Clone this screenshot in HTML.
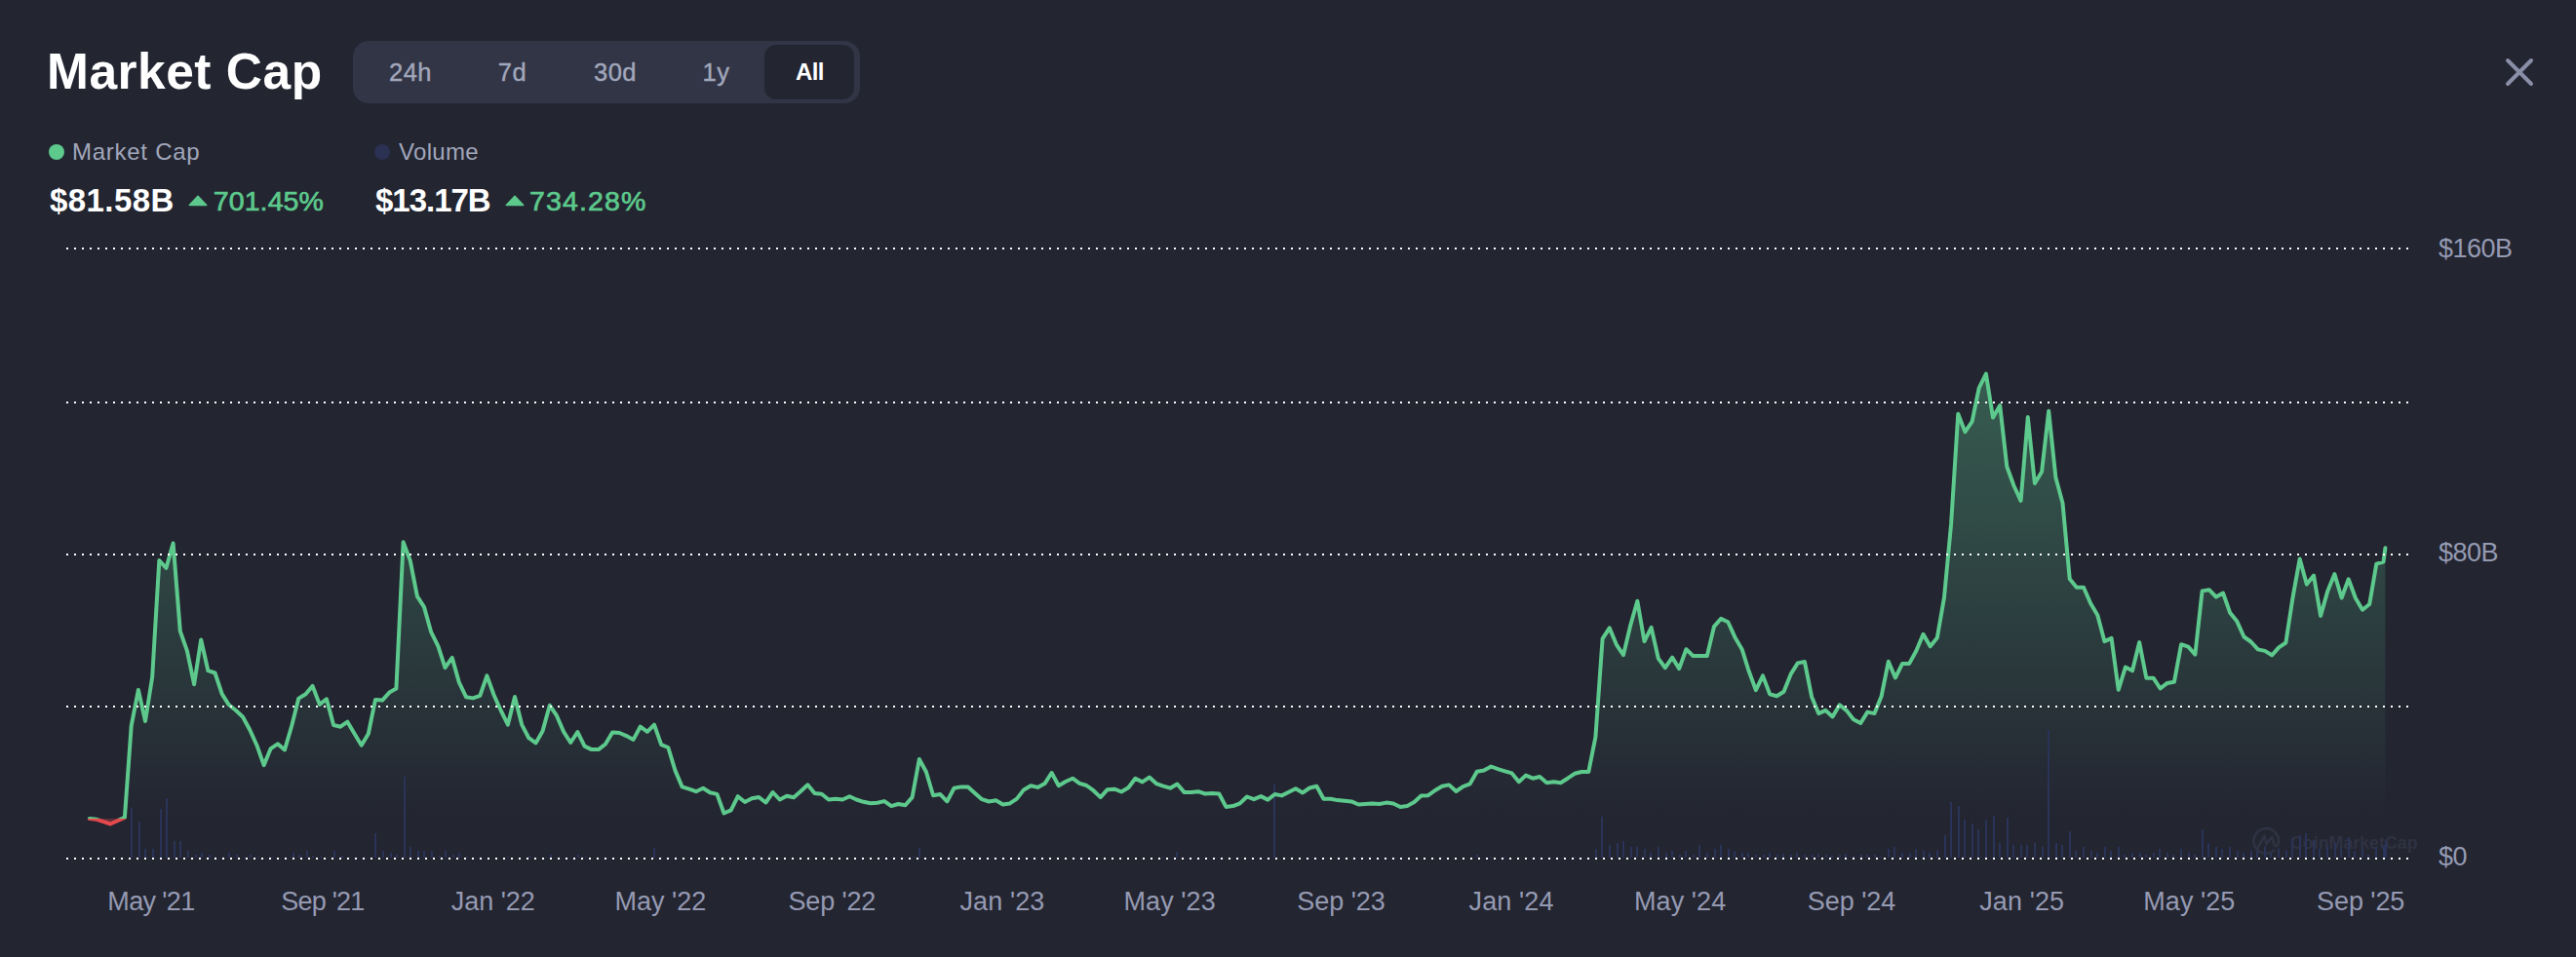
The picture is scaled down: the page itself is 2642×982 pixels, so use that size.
<!DOCTYPE html>
<html lang="en"><head><meta charset="utf-8"><title>Market Cap</title>
<style>
html,body{margin:0;padding:0;background:#232531;}
body{width:2642px;height:982px;background:#232531;overflow:hidden;position:relative;font-family:"Liberation Sans",sans-serif;color:#fff;}
.abs{position:absolute;white-space:nowrap;line-height:1;}
.title{left:48px;top:47.5px;font-size:51.5px;font-weight:700;letter-spacing:0.5px;}
.tabs{left:362px;top:42px;width:520px;height:64px;border-radius:16px;background:#323546;}
.tab{position:absolute;top:0;height:64px;line-height:64px;font-size:25.5px;letter-spacing:0.5px;color:#a1a7bb;text-align:center;transform:translateX(-50%);-webkit-text-stroke:0.4px #a1a7bb;}
.tab.on{top:4px;height:56px;line-height:56px;width:92px;background:#232531;border-radius:12px;color:#fff;font-weight:700;font-size:24px;letter-spacing:-0.6px;-webkit-text-stroke:0;transform:none;}
.dot{width:16px;height:16px;border-radius:50%;}
.lg{font-size:24px;color:#a1a7bb;}
.val{font-size:33px;font-weight:700;}
.pct{font-size:28.5px;color:#5dc98c;-webkit-text-stroke:0.7px #5dc98c;}
svg{position:absolute;left:0;top:0;}
</style></head><body>
<div class="abs title">Market Cap</div>
<div class="abs tabs">
<div class="tab" style="left:59px">24h</div>
<div class="tab" style="left:163.5px">7d</div>
<div class="tab" style="left:269px">30d</div>
<div class="tab" style="left:372.5px">1y</div>
<div class="tab on" style="left:422px;text-indent:1px">All</div>
</div>
<div class="abs dot" style="left:50px;top:148px;background:#5dc98c"></div>
<div class="abs lg" style="left:74px;top:143.7px;letter-spacing:0.73px">Market Cap</div>
<div class="abs dot" style="left:384px;top:148px;background:#2a3152"></div>
<div class="abs lg" style="left:409px;top:143.7px;letter-spacing:0.3px">Volume</div>
<div class="abs val" style="left:51px;top:188.8px;letter-spacing:0.42px">$81.58B</div>
<div class="abs pct" style="left:218.7px;top:191.9px;letter-spacing:0.12px">701.45%</div>
<div class="abs val" style="left:385px;top:188.8px;letter-spacing:-1.02px">$13.17B</div>
<div class="abs pct" style="left:543px;top:191.9px;letter-spacing:1.12px">734.28%</div>
<svg width="2642" height="982" viewBox="0 0 2642 982">
<defs>
<linearGradient id="g" gradientUnits="userSpaceOnUse" x1="0" y1="380" x2="0" y2="840">
<stop offset="0" stop-color="#5dc98c" stop-opacity="0.342"/>
<stop offset="1" stop-color="#5dc98c" stop-opacity="0"/>
</linearGradient>
<clipPath id="up"><rect x="0" y="0" width="2642" height="840.1"/></clipPath>
<clipPath id="dn"><rect x="0" y="840.1" width="2642" height="60"/></clipPath>
</defs>
<path d="M203 201.2 L211.7 210.6 H194.3 Z" fill="#5dc98c" stroke="#5dc98c" stroke-width="1.5" stroke-linejoin="round"/>
<path d="M528 201.2 L536.7 210.6 H519.3 Z" fill="#5dc98c" stroke="#5dc98c" stroke-width="1.5" stroke-linejoin="round"/>
<path d="M2572 62 L2596 86 M2596 62 L2572 86" stroke="#8a8fa8" stroke-width="4" stroke-linecap="round" fill="none"/>
<path d="M91.8 840.1 L99 840.8 L106.1 843.2 L113.3 845.5 L120.4 842.2 L127.9 838.9 L134.7 744.7 L141.9 707.9 L149 740 L156.2 694.5 L163.3 575.1 L170.5 582.8 L177.6 557.4 L184.8 647.7 L191.9 667.8 L199.1 702.2 L206.2 656.4 L213.4 688.2 L220.5 690.5 L227.7 712.2 L234.8 723.3 L242 729 L249.1 735.7 L256.3 749 L263.4 764.7 L270.6 785.2 L277.7 768.1 L284.9 763.4 L292 769.4 L299.2 744.7 L306.3 716.6 L313.5 712.2 L320.6 703.9 L327.8 722.9 L334.9 717.3 L342.1 744 L349.2 745.7 L356.4 740.7 L363.5 752.7 L370.7 764.7 L377.8 753 L385 717.9 L392.1 718.6 L399.3 710.6 L406.4 706.6 L413.6 556.3 L420.7 575.1 L427.9 611.9 L435 622.9 L442.2 648.7 L449.4 663.1 L456.5 685.2 L463.7 674.9 L470.8 700.1 L478 715.2 L485.1 716.4 L492.3 713.9 L499.4 693.4 L506.6 713.3 L513.7 729 L520.9 743.6 L528 715 L535.2 743.6 L542.3 757.2 L549.5 762.4 L556.6 749.9 L563.8 723.8 L570.9 734.2 L578.1 750.9 L585.2 762 L592.4 751.1 L599.5 765.6 L606.7 769.1 L613.8 769.1 L621 763.5 L628.1 751.6 L635.3 752 L642.4 755.1 L649.6 758.9 L656.7 745.7 L663.9 750.9 L671 743.6 L678.2 764.1 L685.3 767 L692.5 790.6 L699.6 807.4 L706.8 809.7 L713.9 812.2 L721.1 808.8 L728.2 813.2 L735.4 814.9 L742.5 834.5 L749.7 831.4 L756.8 817.2 L764 823 L771.1 819.3 L778.3 818 L785.4 823.5 L792.6 813 L799.7 820.5 L806.9 816.8 L814.1 818.2 L821.2 812 L828.4 805.3 L835.5 814.1 L842.7 814.7 L849.8 820.5 L857 819.7 L864.1 820.5 L871.3 817.2 L878.4 820.5 L885.6 822.8 L892.7 824.2 L899.9 823.7 L907 822.1 L914.2 827.1 L921.3 825 L928.5 826.3 L935.6 818.1 L942.8 779 L949.9 792 L957.1 816.2 L964.2 815 L971.4 822.3 L978.5 808.7 L985.7 807.4 L992.8 807.4 L1000 813.9 L1007.1 820.2 L1014.3 822.5 L1021.4 821.2 L1028.6 825.4 L1035.7 824.4 L1042.9 819.6 L1050 810.4 L1057.2 806.2 L1064.3 807.9 L1071.5 804.1 L1078.6 793 L1085.8 806.2 L1092.9 802 L1100.1 798.7 L1107.2 803.9 L1114.4 806 L1121.5 811.2 L1128.7 818.1 L1135.8 810.2 L1143 809.7 L1150.1 812.5 L1157.3 808.3 L1164.4 798.7 L1171.6 802.4 L1178.8 797.6 L1185.9 804.1 L1193.1 806.6 L1200.2 808.7 L1207.4 804.5 L1214.5 812.9 L1221.7 813.1 L1228.8 812.2 L1236 814.5 L1243.1 813.9 L1250.3 814.5 L1257.4 827.9 L1264.6 827.1 L1271.7 824.4 L1278.9 817.5 L1286 820.2 L1293.2 817.1 L1300.3 820.6 L1307.5 815 L1314.6 816.4 L1321.8 812.7 L1328.9 809.2 L1336.1 813.4 L1343.2 808.5 L1350.4 806.8 L1357.5 819.7 L1364.7 819.7 L1371.8 821.1 L1379 821.7 L1386.1 822.4 L1393.3 825.5 L1400.4 825 L1407.6 824.5 L1414.7 825 L1421.9 823.6 L1429 824.5 L1436.2 828 L1443.3 826.9 L1450.5 823.1 L1457.6 816.6 L1464.8 816.2 L1471.9 811 L1479.1 806.7 L1486.2 805.4 L1493.4 812 L1500.5 807.1 L1507.7 804.3 L1514.8 791.7 L1522 790.6 L1529.2 786.5 L1536.3 789.2 L1543.5 791.4 L1550.6 793.4 L1557.8 802.2 L1564.9 795.6 L1572.1 798.7 L1579.2 797 L1586.4 803.2 L1593.5 802.2 L1600.7 803.2 L1607.8 798.7 L1615 793.8 L1622.1 792 L1629.3 791.9 L1636.4 756.3 L1643.6 655.4 L1650.7 644.3 L1657.9 661.6 L1665 672.1 L1672.2 641.8 L1679.3 616.7 L1686.5 658.1 L1693.6 643.9 L1700.8 675.6 L1707.9 685.2 L1715.1 674.6 L1722.2 686.1 L1729.4 666.2 L1736.5 673.1 L1743.7 673.1 L1750.8 673.1 L1758 642.8 L1765.1 634.9 L1772.3 638.2 L1779.4 653.9 L1786.6 666.2 L1793.7 688.8 L1800.9 708.2 L1808 693.4 L1815.2 712.4 L1822.3 714.3 L1829.5 709.7 L1836.6 691.9 L1843.8 680.4 L1850.9 679 L1858.1 714.9 L1865.2 732.1 L1872.4 728.9 L1879.5 735.4 L1886.7 723.3 L1893.9 729.1 L1901 738.3 L1908.2 742.1 L1915.3 730.6 L1922.5 732.1 L1929.6 714.5 L1936.8 678.8 L1943.9 695.5 L1951.1 680.9 L1958.2 680.9 L1965.4 667.7 L1972.5 650.8 L1979.7 663.3 L1986.8 654.5 L1994 613.1 L2001.1 537.9 L2008.3 424.7 L2015.4 443.1 L2022.6 432.7 L2029.7 398.2 L2036.9 383.6 L2044 428.5 L2051.2 416 L2058.3 478.7 L2065.5 498.5 L2072.6 513.8 L2079.8 428.1 L2086.9 496 L2094.1 483.9 L2101.2 421.8 L2108.4 490.1 L2115.5 516.3 L2122.7 593.9 L2129.8 602.7 L2137 602.7 L2144.1 619 L2151.3 631.3 L2158.4 658.1 L2165.6 654.9 L2172.7 707.8 L2179.9 684.6 L2187 688.3 L2194.2 659.1 L2201.3 695.7 L2208.5 695.7 L2215.6 706.5 L2222.8 700.9 L2229.9 699.8 L2237.1 661.2 L2244.3 663.7 L2251.4 671.6 L2258.6 606.4 L2265.7 605.2 L2272.9 612.5 L2280 608.5 L2287.2 628.8 L2294.3 637.6 L2301.5 653.5 L2308.6 658.5 L2315.8 666.4 L2322.9 667.9 L2330.1 672.3 L2337.2 664.3 L2344.4 659.5 L2351.5 613.1 L2358.7 573.4 L2365.8 599.5 L2373 590.6 L2380.1 631.9 L2387.3 606.4 L2394.4 589.1 L2401.6 613.5 L2408.7 594.3 L2415.9 613.8 L2423 625.7 L2430.2 620 L2437.3 578.7 L2444.5 576.6 L2446.4 562.2 L2446.4 840.1 L91.8 840.1 Z" fill="url(#g)" clip-path="url(#up)"/>
<path d="M91.8 840.1 L99 840.8 L106.1 843.2 L113.3 845.5 L120.4 842.2 L127.9 838.9 L134.7 744.7 L141.9 707.9 L149 740 L156.2 694.5 L163.3 575.1 L170.5 582.8 L177.6 557.4 L184.8 647.7 L191.9 667.8 L199.1 702.2 L206.2 656.4 L213.4 688.2 L220.5 690.5 L227.7 712.2 L234.8 723.3 L242 729 L249.1 735.7 L256.3 749 L263.4 764.7 L270.6 785.2 L277.7 768.1 L284.9 763.4 L292 769.4 L299.2 744.7 L306.3 716.6 L313.5 712.2 L320.6 703.9 L327.8 722.9 L334.9 717.3 L342.1 744 L349.2 745.7 L356.4 740.7 L363.5 752.7 L370.7 764.7 L377.8 753 L385 717.9 L392.1 718.6 L399.3 710.6 L406.4 706.6 L413.6 556.3 L420.7 575.1 L427.9 611.9 L435 622.9 L442.2 648.7 L449.4 663.1 L456.5 685.2 L463.7 674.9 L470.8 700.1 L478 715.2 L485.1 716.4 L492.3 713.9 L499.4 693.4 L506.6 713.3 L513.7 729 L520.9 743.6 L528 715 L535.2 743.6 L542.3 757.2 L549.5 762.4 L556.6 749.9 L563.8 723.8 L570.9 734.2 L578.1 750.9 L585.2 762 L592.4 751.1 L599.5 765.6 L606.7 769.1 L613.8 769.1 L621 763.5 L628.1 751.6 L635.3 752 L642.4 755.1 L649.6 758.9 L656.7 745.7 L663.9 750.9 L671 743.6 L678.2 764.1 L685.3 767 L692.5 790.6 L699.6 807.4 L706.8 809.7 L713.9 812.2 L721.1 808.8 L728.2 813.2 L735.4 814.9 L742.5 834.5 L749.7 831.4 L756.8 817.2 L764 823 L771.1 819.3 L778.3 818 L785.4 823.5 L792.6 813 L799.7 820.5 L806.9 816.8 L814.1 818.2 L821.2 812 L828.4 805.3 L835.5 814.1 L842.7 814.7 L849.8 820.5 L857 819.7 L864.1 820.5 L871.3 817.2 L878.4 820.5 L885.6 822.8 L892.7 824.2 L899.9 823.7 L907 822.1 L914.2 827.1 L921.3 825 L928.5 826.3 L935.6 818.1 L942.8 779 L949.9 792 L957.1 816.2 L964.2 815 L971.4 822.3 L978.5 808.7 L985.7 807.4 L992.8 807.4 L1000 813.9 L1007.1 820.2 L1014.3 822.5 L1021.4 821.2 L1028.6 825.4 L1035.7 824.4 L1042.9 819.6 L1050 810.4 L1057.2 806.2 L1064.3 807.9 L1071.5 804.1 L1078.6 793 L1085.8 806.2 L1092.9 802 L1100.1 798.7 L1107.2 803.9 L1114.4 806 L1121.5 811.2 L1128.7 818.1 L1135.8 810.2 L1143 809.7 L1150.1 812.5 L1157.3 808.3 L1164.4 798.7 L1171.6 802.4 L1178.8 797.6 L1185.9 804.1 L1193.1 806.6 L1200.2 808.7 L1207.4 804.5 L1214.5 812.9 L1221.7 813.1 L1228.8 812.2 L1236 814.5 L1243.1 813.9 L1250.3 814.5 L1257.4 827.9 L1264.6 827.1 L1271.7 824.4 L1278.9 817.5 L1286 820.2 L1293.2 817.1 L1300.3 820.6 L1307.5 815 L1314.6 816.4 L1321.8 812.7 L1328.9 809.2 L1336.1 813.4 L1343.2 808.5 L1350.4 806.8 L1357.5 819.7 L1364.7 819.7 L1371.8 821.1 L1379 821.7 L1386.1 822.4 L1393.3 825.5 L1400.4 825 L1407.6 824.5 L1414.7 825 L1421.9 823.6 L1429 824.5 L1436.2 828 L1443.3 826.9 L1450.5 823.1 L1457.6 816.6 L1464.8 816.2 L1471.9 811 L1479.1 806.7 L1486.2 805.4 L1493.4 812 L1500.5 807.1 L1507.7 804.3 L1514.8 791.7 L1522 790.6 L1529.2 786.5 L1536.3 789.2 L1543.5 791.4 L1550.6 793.4 L1557.8 802.2 L1564.9 795.6 L1572.1 798.7 L1579.2 797 L1586.4 803.2 L1593.5 802.2 L1600.7 803.2 L1607.8 798.7 L1615 793.8 L1622.1 792 L1629.3 791.9 L1636.4 756.3 L1643.6 655.4 L1650.7 644.3 L1657.9 661.6 L1665 672.1 L1672.2 641.8 L1679.3 616.7 L1686.5 658.1 L1693.6 643.9 L1700.8 675.6 L1707.9 685.2 L1715.1 674.6 L1722.2 686.1 L1729.4 666.2 L1736.5 673.1 L1743.7 673.1 L1750.8 673.1 L1758 642.8 L1765.1 634.9 L1772.3 638.2 L1779.4 653.9 L1786.6 666.2 L1793.7 688.8 L1800.9 708.2 L1808 693.4 L1815.2 712.4 L1822.3 714.3 L1829.5 709.7 L1836.6 691.9 L1843.8 680.4 L1850.9 679 L1858.1 714.9 L1865.2 732.1 L1872.4 728.9 L1879.5 735.4 L1886.7 723.3 L1893.9 729.1 L1901 738.3 L1908.2 742.1 L1915.3 730.6 L1922.5 732.1 L1929.6 714.5 L1936.8 678.8 L1943.9 695.5 L1951.1 680.9 L1958.2 680.9 L1965.4 667.7 L1972.5 650.8 L1979.7 663.3 L1986.8 654.5 L1994 613.1 L2001.1 537.9 L2008.3 424.7 L2015.4 443.1 L2022.6 432.7 L2029.7 398.2 L2036.9 383.6 L2044 428.5 L2051.2 416 L2058.3 478.7 L2065.5 498.5 L2072.6 513.8 L2079.8 428.1 L2086.9 496 L2094.1 483.9 L2101.2 421.8 L2108.4 490.1 L2115.5 516.3 L2122.7 593.9 L2129.8 602.7 L2137 602.7 L2144.1 619 L2151.3 631.3 L2158.4 658.1 L2165.6 654.9 L2172.7 707.8 L2179.9 684.6 L2187 688.3 L2194.2 659.1 L2201.3 695.7 L2208.5 695.7 L2215.6 706.5 L2222.8 700.9 L2229.9 699.8 L2237.1 661.2 L2244.3 663.7 L2251.4 671.6 L2258.6 606.4 L2265.7 605.2 L2272.9 612.5 L2280 608.5 L2287.2 628.8 L2294.3 637.6 L2301.5 653.5 L2308.6 658.5 L2315.8 666.4 L2322.9 667.9 L2330.1 672.3 L2337.2 664.3 L2344.4 659.5 L2351.5 613.1 L2358.7 573.4 L2365.8 599.5 L2373 590.6 L2380.1 631.9 L2387.3 606.4 L2394.4 589.1 L2401.6 613.5 L2408.7 594.3 L2415.9 613.8 L2423 625.7 L2430.2 620 L2437.3 578.7 L2444.5 576.6 L2446.4 562.2 L2446.4 840.1 L91.8 840.1 Z" fill="#e5484d" fill-opacity="0.3" clip-path="url(#dn)"/>
<g fill="none" stroke="#2f3241" stroke-width="2.7" stroke-linecap="round" stroke-linejoin="round"><path d="M2332.4 872.8 A12.8 12.8 0 1 1 2336.9 864.8 C2336.3 868.6 2333.2 868.9 2332.6 866.4 L2330.1 858.9 L2324.4 866.3 L2322.6 857.6 L2315.6 870"/></g>
<text x="2349" y="870.8" font-size="19" font-weight="700" fill="#2f3241" textLength="130.5" lengthAdjust="spacingAndGlyphs">CoinMarketCap</text>
<g fill="#2a3358"><rect x="134" y="829" width="2" height="51"/><rect x="142" y="843" width="2" height="37"/><rect x="148" y="871" width="2" height="9"/><rect x="156" y="871" width="2" height="9"/><rect x="164" y="830" width="2" height="50"/><rect x="170" y="819" width="2" height="61"/><rect x="178" y="863" width="2" height="17"/><rect x="184" y="863" width="2" height="17"/><rect x="192" y="873" width="2" height="7"/><rect x="200" y="877" width="2" height="3"/><rect x="206" y="875" width="2" height="5"/><rect x="214" y="877" width="2" height="3"/><rect x="220" y="879" width="2" height="1"/><rect x="228" y="879" width="2" height="1"/><rect x="234" y="875" width="2" height="5"/><rect x="242" y="877" width="2" height="3"/><rect x="250" y="879" width="2" height="1"/><rect x="256" y="877" width="2" height="3"/><rect x="264" y="879" width="2" height="1"/><rect x="278" y="879" width="2" height="1"/><rect x="300" y="875" width="2" height="5"/><rect x="306" y="877" width="2" height="3"/><rect x="314" y="873" width="2" height="7"/><rect x="320" y="878" width="2" height="2"/><rect x="328" y="879" width="2" height="1"/><rect x="342" y="873" width="2" height="7"/><rect x="350" y="878" width="2" height="2"/><rect x="384" y="855" width="2" height="25"/><rect x="392" y="873" width="2" height="7"/><rect x="400" y="875" width="2" height="5"/><rect x="406" y="877" width="2" height="3"/><rect x="414" y="797" width="2" height="83"/><rect x="420" y="869" width="2" height="11"/><rect x="428" y="873" width="2" height="7"/><rect x="434" y="873" width="2" height="7"/><rect x="442" y="873" width="2" height="7"/><rect x="450" y="878" width="2" height="2"/><rect x="456" y="873" width="2" height="7"/><rect x="464" y="877" width="2" height="3"/><rect x="470" y="875" width="2" height="5"/><rect x="478" y="879" width="2" height="1"/><rect x="492" y="879" width="2" height="1"/><rect x="520" y="879" width="2" height="1"/><rect x="542" y="878" width="2" height="2"/><rect x="564" y="877" width="2" height="3"/><rect x="592" y="877" width="2" height="3"/><rect x="600" y="879" width="2" height="1"/><rect x="670" y="870" width="2" height="10"/><rect x="678" y="879" width="2" height="1"/><rect x="692" y="879" width="2" height="1"/><rect x="936" y="879" width="2" height="1"/><rect x="942" y="870" width="2" height="10"/><rect x="1192" y="879" width="2" height="1"/><rect x="1206" y="874" width="2" height="6"/><rect x="1306" y="805" width="2" height="75"/><rect x="1478" y="879" width="2" height="1"/><rect x="1514" y="877" width="2" height="3"/><rect x="1528" y="879" width="2" height="1"/><rect x="1542" y="879" width="2" height="1"/><rect x="1614" y="879" width="2" height="1"/><rect x="1636" y="871" width="2" height="9"/><rect x="1642" y="838" width="2" height="42"/><rect x="1650" y="867" width="2" height="13"/><rect x="1658" y="865" width="2" height="15"/><rect x="1664" y="863" width="2" height="17"/><rect x="1672" y="869" width="2" height="11"/><rect x="1678" y="869" width="2" height="11"/><rect x="1686" y="871" width="2" height="9"/><rect x="1692" y="875" width="2" height="5"/><rect x="1700" y="869" width="2" height="11"/><rect x="1708" y="875" width="2" height="5"/><rect x="1714" y="873" width="2" height="7"/><rect x="1722" y="877" width="2" height="3"/><rect x="1728" y="873" width="2" height="7"/><rect x="1736" y="877" width="2" height="3"/><rect x="1742" y="867" width="2" height="13"/><rect x="1750" y="875" width="2" height="5"/><rect x="1758" y="871" width="2" height="9"/><rect x="1764" y="867" width="2" height="13"/><rect x="1772" y="871" width="2" height="9"/><rect x="1778" y="873" width="2" height="7"/><rect x="1786" y="875" width="2" height="5"/><rect x="1792" y="875" width="2" height="5"/><rect x="1800" y="877" width="2" height="3"/><rect x="1808" y="877" width="2" height="3"/><rect x="1814" y="875" width="2" height="5"/><rect x="1822" y="877" width="2" height="3"/><rect x="1828" y="876" width="2" height="4"/><rect x="1836" y="877" width="2" height="3"/><rect x="1842" y="875" width="2" height="5"/><rect x="1850" y="877" width="2" height="3"/><rect x="1858" y="877" width="2" height="3"/><rect x="1864" y="876" width="2" height="4"/><rect x="1872" y="877" width="2" height="3"/><rect x="1878" y="878" width="2" height="2"/><rect x="1886" y="877" width="2" height="3"/><rect x="1892" y="876" width="2" height="4"/><rect x="1900" y="878" width="2" height="2"/><rect x="1908" y="877" width="2" height="3"/><rect x="1914" y="877" width="2" height="3"/><rect x="1922" y="877" width="2" height="3"/><rect x="1928" y="879" width="2" height="1"/><rect x="1936" y="871" width="2" height="9"/><rect x="1942" y="869" width="2" height="11"/><rect x="1950" y="875" width="2" height="5"/><rect x="1958" y="875" width="2" height="5"/><rect x="1964" y="871" width="2" height="9"/><rect x="1972" y="872.5" width="2" height="7.5"/><rect x="1978" y="875" width="2" height="5"/><rect x="1986" y="872.5" width="2" height="7.5"/><rect x="1994" y="857" width="2" height="23"/><rect x="2000" y="823" width="2" height="57"/><rect x="2008" y="827" width="2" height="53"/><rect x="2014" y="841" width="2" height="39"/><rect x="2022" y="845" width="2" height="35"/><rect x="2028" y="851" width="2" height="29"/><rect x="2036" y="841" width="2" height="39"/><rect x="2044" y="837" width="2" height="43"/><rect x="2050" y="865" width="2" height="15"/><rect x="2058" y="839" width="2" height="41"/><rect x="2064" y="867" width="2" height="13"/><rect x="2072" y="867" width="2" height="13"/><rect x="2078" y="867" width="2" height="13"/><rect x="2086" y="865" width="2" height="15"/><rect x="2094" y="869" width="2" height="11"/><rect x="2100" y="749" width="2" height="131"/><rect x="2108" y="865" width="2" height="15"/><rect x="2114" y="867" width="2" height="13"/><rect x="2122" y="853" width="2" height="27"/><rect x="2128" y="873" width="2" height="7"/><rect x="2136" y="869" width="2" height="11"/><rect x="2144" y="873" width="2" height="7"/><rect x="2150" y="875" width="2" height="5"/><rect x="2158" y="869" width="2" height="11"/><rect x="2164" y="873" width="2" height="7"/><rect x="2172" y="869" width="2" height="11"/><rect x="2178" y="877" width="2" height="3"/><rect x="2186" y="875" width="2" height="5"/><rect x="2194" y="875" width="2" height="5"/><rect x="2200" y="877" width="2" height="3"/><rect x="2208" y="875" width="2" height="5"/><rect x="2214" y="871" width="2" height="9"/><rect x="2222" y="875" width="2" height="5"/><rect x="2228" y="877" width="2" height="3"/><rect x="2236" y="871" width="2" height="9"/><rect x="2244" y="875" width="2" height="5"/><rect x="2250" y="877" width="2" height="3"/><rect x="2258" y="851" width="2" height="29"/><rect x="2264" y="865" width="2" height="15"/><rect x="2272" y="869" width="2" height="11"/><rect x="2278" y="871" width="2" height="9"/><rect x="2286" y="869" width="2" height="11"/><rect x="2294" y="873" width="2" height="7"/><rect x="2300" y="875" width="2" height="5"/><rect x="2308" y="872.7" width="2" height="7.3"/><rect x="2314" y="873.2" width="2" height="6.8"/><rect x="2322" y="868.5" width="2" height="11.5"/><rect x="2328" y="875.3" width="2" height="4.7"/><rect x="2336" y="870.8" width="2" height="9.2"/><rect x="2344" y="872.7" width="2" height="7.3"/><rect x="2350" y="860.5" width="2" height="19.5"/><rect x="2358" y="856.7" width="2" height="23.3"/><rect x="2364" y="854.8" width="2" height="25.2"/><rect x="2372" y="862.4" width="2" height="17.6"/><rect x="2378" y="870.8" width="2" height="9.2"/><rect x="2386" y="869" width="2" height="11"/><rect x="2394" y="864.7" width="2" height="15.3"/><rect x="2400" y="871" width="2" height="9"/><rect x="2408" y="859" width="2" height="21"/><rect x="2414" y="873" width="2" height="7"/><rect x="2422" y="871" width="2" height="9"/><rect x="2428" y="877" width="2" height="3"/><rect x="2436" y="869" width="2" height="11"/><rect x="2444" y="867" width="2" height="13"/><rect x="2446" y="862.5" width="2" height="17.5"/></g>
<path d="M91.8 840.1 L99 840.8 L106.1 843.2 L113.3 845.5 L120.4 842.2 L127.9 838.9 L134.7 744.7 L141.9 707.9 L149 740 L156.2 694.5 L163.3 575.1 L170.5 582.8 L177.6 557.4 L184.8 647.7 L191.9 667.8 L199.1 702.2 L206.2 656.4 L213.4 688.2 L220.5 690.5 L227.7 712.2 L234.8 723.3 L242 729 L249.1 735.7 L256.3 749 L263.4 764.7 L270.6 785.2 L277.7 768.1 L284.9 763.4 L292 769.4 L299.2 744.7 L306.3 716.6 L313.5 712.2 L320.6 703.9 L327.8 722.9 L334.9 717.3 L342.1 744 L349.2 745.7 L356.4 740.7 L363.5 752.7 L370.7 764.7 L377.8 753 L385 717.9 L392.1 718.6 L399.3 710.6 L406.4 706.6 L413.6 556.3 L420.7 575.1 L427.9 611.9 L435 622.9 L442.2 648.7 L449.4 663.1 L456.5 685.2 L463.7 674.9 L470.8 700.1 L478 715.2 L485.1 716.4 L492.3 713.9 L499.4 693.4 L506.6 713.3 L513.7 729 L520.9 743.6 L528 715 L535.2 743.6 L542.3 757.2 L549.5 762.4 L556.6 749.9 L563.8 723.8 L570.9 734.2 L578.1 750.9 L585.2 762 L592.4 751.1 L599.5 765.6 L606.7 769.1 L613.8 769.1 L621 763.5 L628.1 751.6 L635.3 752 L642.4 755.1 L649.6 758.9 L656.7 745.7 L663.9 750.9 L671 743.6 L678.2 764.1 L685.3 767 L692.5 790.6 L699.6 807.4 L706.8 809.7 L713.9 812.2 L721.1 808.8 L728.2 813.2 L735.4 814.9 L742.5 834.5 L749.7 831.4 L756.8 817.2 L764 823 L771.1 819.3 L778.3 818 L785.4 823.5 L792.6 813 L799.7 820.5 L806.9 816.8 L814.1 818.2 L821.2 812 L828.4 805.3 L835.5 814.1 L842.7 814.7 L849.8 820.5 L857 819.7 L864.1 820.5 L871.3 817.2 L878.4 820.5 L885.6 822.8 L892.7 824.2 L899.9 823.7 L907 822.1 L914.2 827.1 L921.3 825 L928.5 826.3 L935.6 818.1 L942.8 779 L949.9 792 L957.1 816.2 L964.2 815 L971.4 822.3 L978.5 808.7 L985.7 807.4 L992.8 807.4 L1000 813.9 L1007.1 820.2 L1014.3 822.5 L1021.4 821.2 L1028.6 825.4 L1035.7 824.4 L1042.9 819.6 L1050 810.4 L1057.2 806.2 L1064.3 807.9 L1071.5 804.1 L1078.6 793 L1085.8 806.2 L1092.9 802 L1100.1 798.7 L1107.2 803.9 L1114.4 806 L1121.5 811.2 L1128.7 818.1 L1135.8 810.2 L1143 809.7 L1150.1 812.5 L1157.3 808.3 L1164.4 798.7 L1171.6 802.4 L1178.8 797.6 L1185.9 804.1 L1193.1 806.6 L1200.2 808.7 L1207.4 804.5 L1214.5 812.9 L1221.7 813.1 L1228.8 812.2 L1236 814.5 L1243.1 813.9 L1250.3 814.5 L1257.4 827.9 L1264.6 827.1 L1271.7 824.4 L1278.9 817.5 L1286 820.2 L1293.2 817.1 L1300.3 820.6 L1307.5 815 L1314.6 816.4 L1321.8 812.7 L1328.9 809.2 L1336.1 813.4 L1343.2 808.5 L1350.4 806.8 L1357.5 819.7 L1364.7 819.7 L1371.8 821.1 L1379 821.7 L1386.1 822.4 L1393.3 825.5 L1400.4 825 L1407.6 824.5 L1414.7 825 L1421.9 823.6 L1429 824.5 L1436.2 828 L1443.3 826.9 L1450.5 823.1 L1457.6 816.6 L1464.8 816.2 L1471.9 811 L1479.1 806.7 L1486.2 805.4 L1493.4 812 L1500.5 807.1 L1507.7 804.3 L1514.8 791.7 L1522 790.6 L1529.2 786.5 L1536.3 789.2 L1543.5 791.4 L1550.6 793.4 L1557.8 802.2 L1564.9 795.6 L1572.1 798.7 L1579.2 797 L1586.4 803.2 L1593.5 802.2 L1600.7 803.2 L1607.8 798.7 L1615 793.8 L1622.1 792 L1629.3 791.9 L1636.4 756.3 L1643.6 655.4 L1650.7 644.3 L1657.9 661.6 L1665 672.1 L1672.2 641.8 L1679.3 616.7 L1686.5 658.1 L1693.6 643.9 L1700.8 675.6 L1707.9 685.2 L1715.1 674.6 L1722.2 686.1 L1729.4 666.2 L1736.5 673.1 L1743.7 673.1 L1750.8 673.1 L1758 642.8 L1765.1 634.9 L1772.3 638.2 L1779.4 653.9 L1786.6 666.2 L1793.7 688.8 L1800.9 708.2 L1808 693.4 L1815.2 712.4 L1822.3 714.3 L1829.5 709.7 L1836.6 691.9 L1843.8 680.4 L1850.9 679 L1858.1 714.9 L1865.2 732.1 L1872.4 728.9 L1879.5 735.4 L1886.7 723.3 L1893.9 729.1 L1901 738.3 L1908.2 742.1 L1915.3 730.6 L1922.5 732.1 L1929.6 714.5 L1936.8 678.8 L1943.9 695.5 L1951.1 680.9 L1958.2 680.9 L1965.4 667.7 L1972.5 650.8 L1979.7 663.3 L1986.8 654.5 L1994 613.1 L2001.1 537.9 L2008.3 424.7 L2015.4 443.1 L2022.6 432.7 L2029.7 398.2 L2036.9 383.6 L2044 428.5 L2051.2 416 L2058.3 478.7 L2065.5 498.5 L2072.6 513.8 L2079.8 428.1 L2086.9 496 L2094.1 483.9 L2101.2 421.8 L2108.4 490.1 L2115.5 516.3 L2122.7 593.9 L2129.8 602.7 L2137 602.7 L2144.1 619 L2151.3 631.3 L2158.4 658.1 L2165.6 654.9 L2172.7 707.8 L2179.9 684.6 L2187 688.3 L2194.2 659.1 L2201.3 695.7 L2208.5 695.7 L2215.6 706.5 L2222.8 700.9 L2229.9 699.8 L2237.1 661.2 L2244.3 663.7 L2251.4 671.6 L2258.6 606.4 L2265.7 605.2 L2272.9 612.5 L2280 608.5 L2287.2 628.8 L2294.3 637.6 L2301.5 653.5 L2308.6 658.5 L2315.8 666.4 L2322.9 667.9 L2330.1 672.3 L2337.2 664.3 L2344.4 659.5 L2351.5 613.1 L2358.7 573.4 L2365.8 599.5 L2373 590.6 L2380.1 631.9 L2387.3 606.4 L2394.4 589.1 L2401.6 613.5 L2408.7 594.3 L2415.9 613.8 L2423 625.7 L2430.2 620 L2437.3 578.7 L2444.5 576.6 L2446.4 562.2" fill="none" stroke="#5dc98c" stroke-width="4" stroke-linejoin="round" stroke-linecap="round" clip-path="url(#up)"/>
<path d="M91.8 840.1 L99 840.8 L106.1 843.2 L113.3 845.5 L120.4 842.2 L127.9 838.9 L134.7 744.7" fill="none" stroke="#e5484d" stroke-width="4" stroke-linejoin="round" stroke-linecap="round" clip-path="url(#dn)"/>
<g stroke="#ffffff" stroke-width="2" stroke-dasharray="2 6" fill="none"><path d="M68 255H2470" /><path d="M68 413H2470" /><path d="M68 569H2470" /><path d="M68 725H2470" /><path d="M68 881H2470" /></g>
<g font-size="27" letter-spacing="-0.5" fill="#959ab2">
<text x="2501" y="264">$160B</text>
<text x="2501" y="576">$80B</text>
<text x="2501" y="888">$0</text>
<text x="110.3" y="934" textLength="89.9" lengthAdjust="spacing" letter-spacing="0">May '21</text><text x="288.2" y="934" textLength="86.1" lengthAdjust="spacing" letter-spacing="0">Sep '21</text><text x="462.7" y="934" textLength="86.1" lengthAdjust="spacing" letter-spacing="0">Jan '22</text><text x="630.6" y="934" textLength="93.7" lengthAdjust="spacing" letter-spacing="0">May '22</text><text x="808.4" y="934" textLength="89.9" lengthAdjust="spacing" letter-spacing="0">Sep '22</text><text x="984.5" y="934" textLength="86.9" lengthAdjust="spacing" letter-spacing="0">Jan '23</text><text x="1152.5" y="934" textLength="94.2" lengthAdjust="spacing" letter-spacing="0">May '23</text><text x="1330.2" y="934" textLength="90.7" lengthAdjust="spacing" letter-spacing="0">Sep '23</text><text x="1506.6" y="934" textLength="86.9" lengthAdjust="spacing" letter-spacing="0">Jan '24</text><text x="1676.0" y="934" textLength="94.2" lengthAdjust="spacing" letter-spacing="0">May '24</text><text x="1853.8" y="934" textLength="90.5" lengthAdjust="spacing" letter-spacing="0">Sep '24</text><text x="2030.2" y="934" textLength="86.9" lengthAdjust="spacing" letter-spacing="0">Jan '25</text><text x="2198.2" y="934" textLength="94.2" lengthAdjust="spacing" letter-spacing="0">May '25</text><text x="2376.0" y="934" textLength="90.4" lengthAdjust="spacing" letter-spacing="0">Sep '25</text>
</g>
</svg>
</body></html>
